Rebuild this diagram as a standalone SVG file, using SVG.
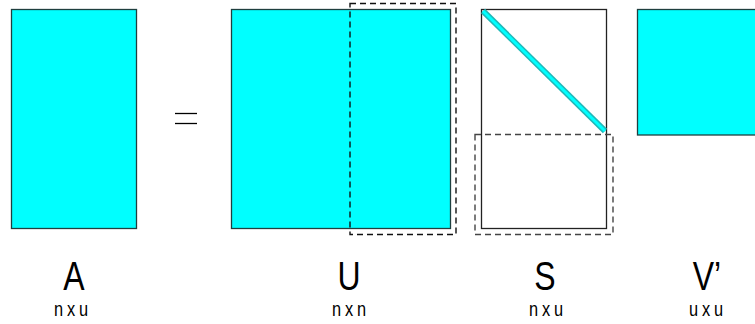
<svg xmlns="http://www.w3.org/2000/svg" width="755" height="324" viewBox="0 0 755 324">
<style>
.m{fill:#00ffff;stroke:#1f3f3f;stroke-width:1.3}
.w{fill:#ffffff;stroke:#222222;stroke-width:1.3}
.d{fill:none;stroke:#111111;stroke-width:1.4;stroke-dasharray:6,4}
.big{font-family:"Liberation Sans",Arial,sans-serif;font-size:41px;fill:#000;text-anchor:middle}
.sub{font-family:"Liberation Sans",Arial,sans-serif;font-size:21px;fill:#000;text-anchor:middle;letter-spacing:5px}
</style>
<rect width="755" height="324" fill="#ffffff"/>
<g id="A">
<rect class="m" x="11.5" y="9.5" width="125" height="219"/>
<text class="big" transform="translate(74,290) scale(0.78,1)">A</text>
<text class="sub" transform="translate(73,316) scale(0.78,1)">nxu</text>
</g>
<g id="equals">
<line x1="175" y1="113.5" x2="197" y2="113.5" stroke="#000" stroke-width="1.3"/>
<line x1="175" y1="123.5" x2="197" y2="123.5" stroke="#000" stroke-width="1.3"/>
</g>
<g id="U">
<rect class="m" x="231.5" y="9.5" width="219" height="219"/>
<rect class="d" x="350" y="3.5" width="106" height="231"/>
<text class="big" transform="translate(349,290) scale(0.78,1)">U</text>
<text class="sub" transform="translate(351,316) scale(0.78,1)">nxn</text>
</g>
<g id="S">
<rect class="w" x="481.5" y="9.5" width="125" height="219"/>
<line x1="483" y1="11" x2="605" y2="131" stroke="#20b8b8" stroke-width="6"/>
<line x1="483" y1="11" x2="605" y2="131" stroke="#00ffff" stroke-width="3"/>
<rect class="d" x="475" y="134.5" width="138" height="100" style="stroke:#444444"/>
<text class="big" transform="translate(545,290) scale(0.78,1)">S</text>
<text class="sub" transform="translate(548,316) scale(0.78,1)">nxu</text>
</g>
<g id="Vt">
<rect class="m" x="637.5" y="9.5" width="130" height="125.5"/>
<text class="big" transform="translate(707,290) scale(0.78,1)">V’</text>
<text class="sub" transform="translate(708,316) scale(0.78,1)">uxu</text>
</g>
</svg>
